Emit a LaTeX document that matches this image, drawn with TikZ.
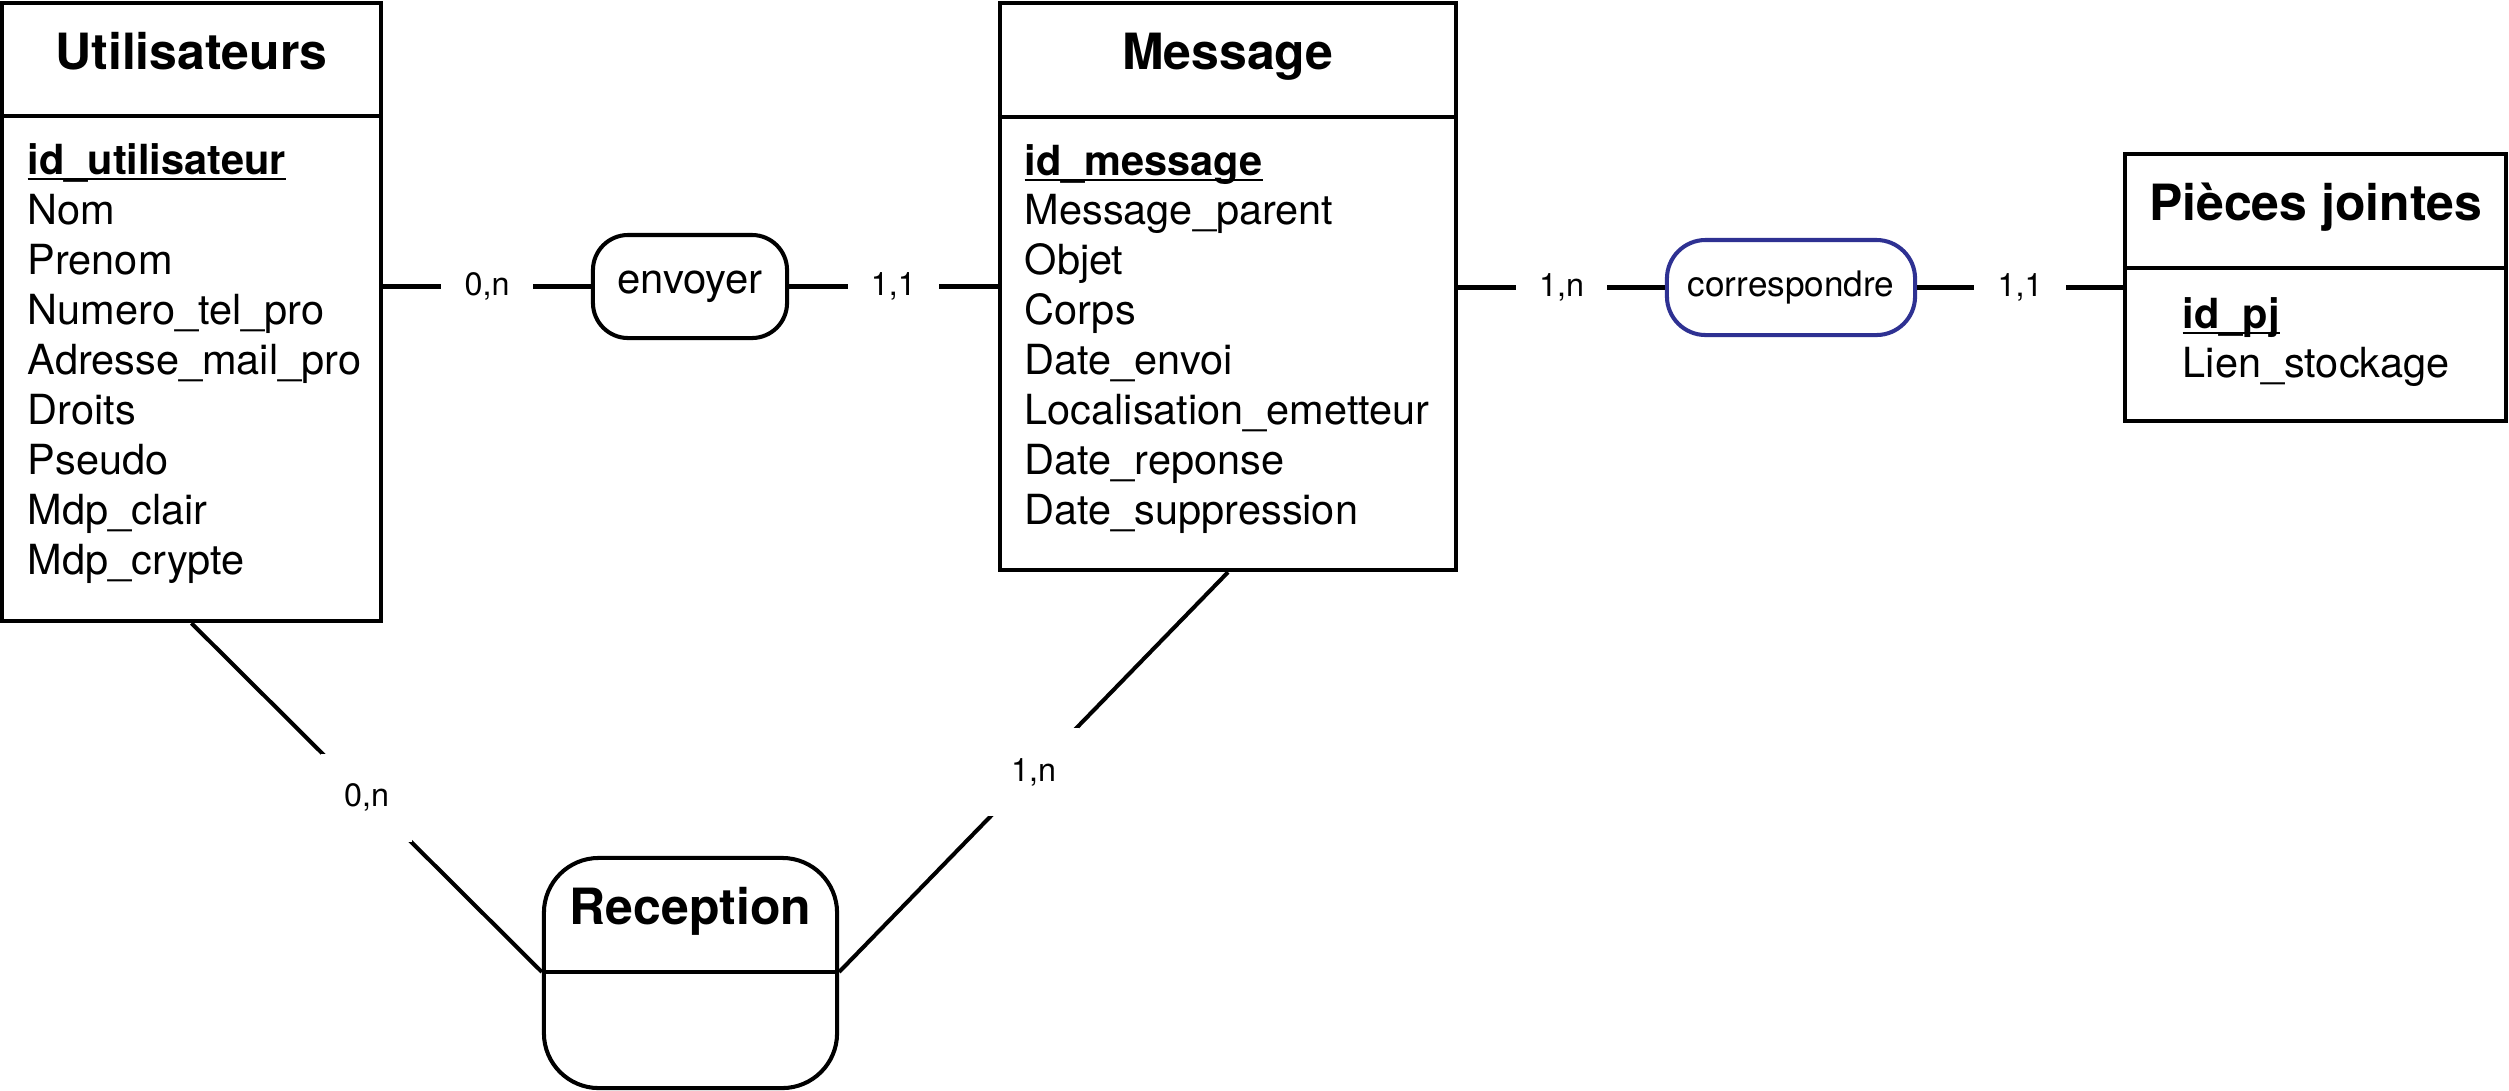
\documentclass[tikz,border=0pt]{standalone}
\usepackage{fontspec}
\setmainfont{TeX Gyre Heros}
\definecolor{relblue}{RGB}{46,49,146}
\newcommand\pkline[1]{\setbox0\hbox{#1}\rlap{\rule[-0.155em]{\wd0}{0.06em}}\box0}
\begin{document}
\begin{tikzpicture}[x=0.01cm,y=-0.01cm,
  ent/.style={draw, line width=1.15pt, rectangle, inner sep=0},
  ttl/.style={font=\fontsize{14.2}{17}\selectfont\bfseries, anchor=base, inner sep=0},
  attr/.style={font=\fontsize{11.8}{14}\selectfont, anchor=base west, inner sep=0},
  rel/.style={draw, line width=1.15pt, rounded corners=10pt, inner sep=0},
  card/.style={fill=white, font=\fontsize{9.2}{11}\selectfont, minimum width=26pt, minimum height=25pt, inner sep=0},
  link/.style={line width=1.15pt}]

\useasboundingbox (0,0) rectangle (2509,1090);

% Utilisateurs
\node[ent, minimum width=3.79cm, minimum height=6.18cm] (util) at (191.5,312) {};
\draw[link] (util.west |- 0,116) -- (util.east |- 0,116);
\node[ttl] (utilT) at (191.5,69) {Utilisateurs};
\node[attr] (u0) at (27,174) {\bfseries\pkline{id\_utilisateur}};
\foreach \t [count=\i] in {Nom,Prenom,Numero\_tel\_pro,Adresse\_mail\_pro,Droits,Pseudo,Mdp\_clair,Mdp\_crypte}
  \node[attr] (u\i) at (27,174+50*\i) {\t};

% Message
\node[ent, minimum width=4.56cm, minimum height=5.67cm] (msg) at (1228,286.5) {};
\draw[link] (msg.west |- 0,117) -- (msg.east |- 0,117);
\node[ttl] (msgT) at (1228,69) {Message};
\node[attr] (m0) at (1024,175) {\bfseries\pkline{id\_message}};
\foreach \t [count=\i] in {Message\_parent,Objet,Corps,Date\_envoi,Localisation\_emetteur,Date\_reponse,Date\_suppression}
  \node[attr] (m\i) at (1024,175+49.9*\i) {\t};

% Pieces jointes
\node[ent, minimum width=3.81cm, minimum height=2.67cm] (pj) at (2315.5,287.5) {};
\draw[link] (pj.west |- 0,268) -- (pj.east |- 0,268);
\node[ttl] (pjT) at (2315.5,220) {Pièces jointes};
\node[attr] (p0) at (2182,328) {\bfseries\pkline{id\_pj}};
\node[attr] (p1) at (2182,377) {Lien\_stockage};

% Relations
\node[rel, minimum width=1.94cm, minimum height=1.03cm, font=\fontsize{11.9}{14}\selectfont] (env) at (690,286.5) {envoyer};
\node[rel, draw=relblue, rounded corners=11pt, minimum width=2.48cm, minimum height=0.95cm, font=\fontsize{10}{12}\selectfont] (corr) at (1791,287.5) {correspondre};

% Reception
\node[rel, rounded corners=15.6pt, minimum width=2.93cm, minimum height=2.30cm] (rec) at (690.5,973) {};
\coordinate (recL) at (rec.west |- 0,972);
\coordinate (recR) at (rec.east |- 0,972);
\draw[link] (recL) -- (recR);
\node[ttl] (recT) at (690.5,924) {Reception};

% Connectors
\draw[link] (util.east |- env) -- node[card] (c1) {0,n} (env.west);
\draw[link] (env.east) -- node[card] (c2) {1,1} (msg.west |- env);
\draw[link] (msg.east |- corr) -- node[card] (c3) {1,n} (corr.west);
\draw[link] (corr.east) -- node[card] (c4) {1,1} (pj.west |- corr);
\draw[link] (util.south) -- node[card] (c5) {0,n} (recL);
\draw[link] (msg.south) -- node[card] (c6) {1,n} (recR);
\end{tikzpicture}
\end{document}
